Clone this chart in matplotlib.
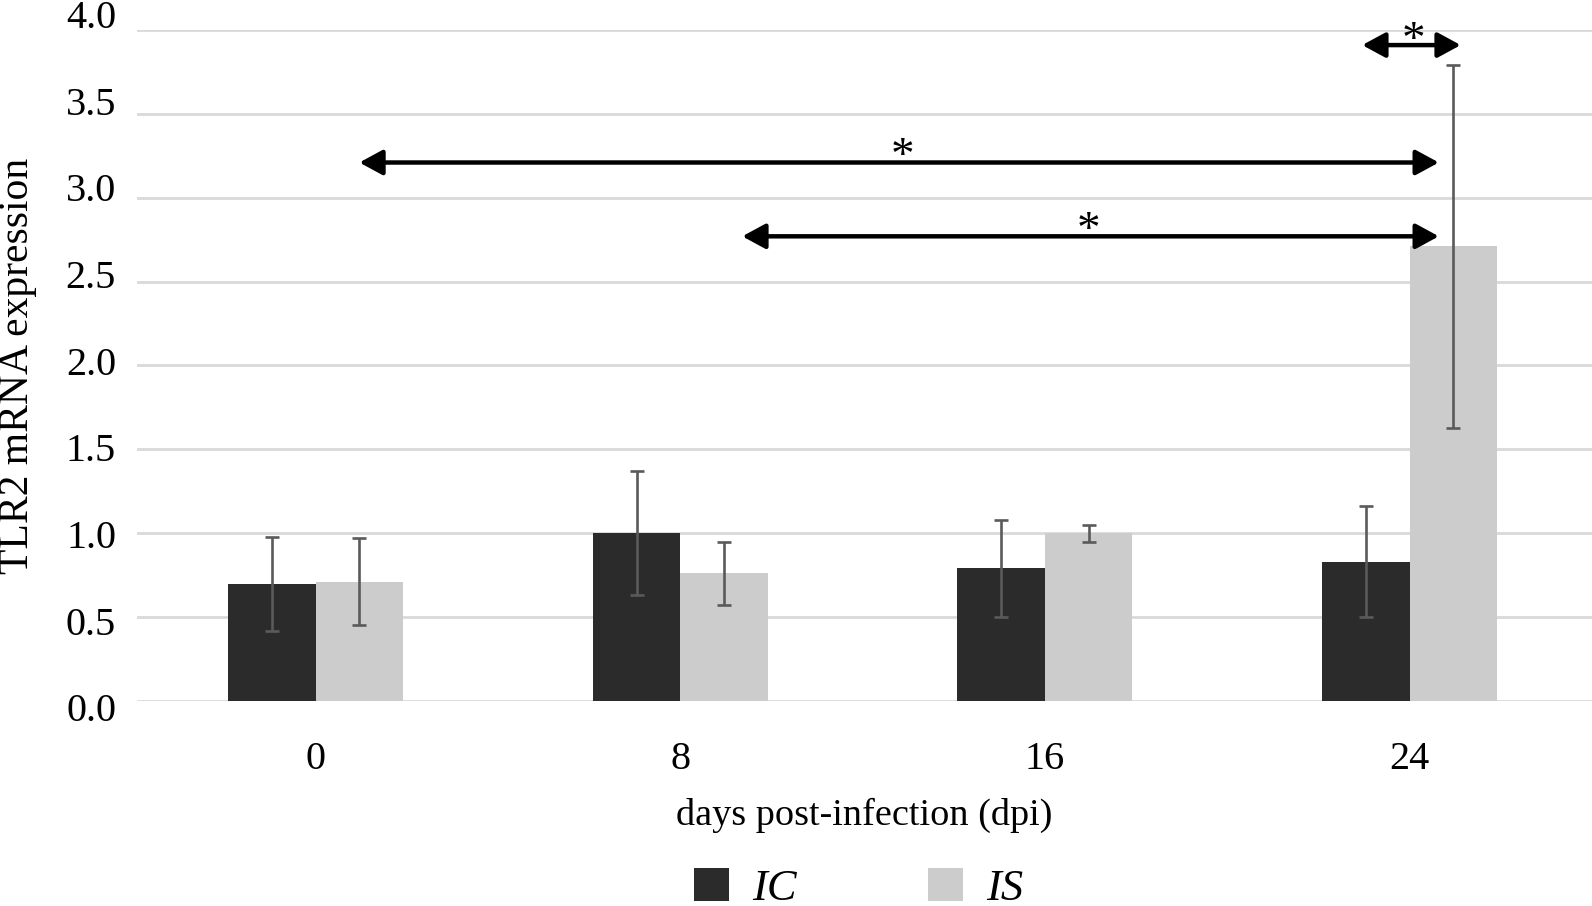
import matplotlib
matplotlib.use("Agg")
import matplotlib.pyplot as plt
import numpy as np

# data
days = ["0", "8", "16", "24"]
ic_mean = [0.70, 1.00, 0.79, 0.83]
ic_err = [0.28, 0.37, 0.29, 0.33]
is_mean = [0.71, 0.76, 1.00, 2.71]
is_err = [0.26, 0.19, 0.05, 1.08]
yticks = [0.0, 0.5, 1.0, 1.5, 2.0, 2.5, 3.0, 3.5, 4.0]

# significance brackets: (x start, x end, y of arrow, star x, star y)
sig_x0 = [2.87, 0.12, 1.17]
sig_x1 = [3.14, 3.08, 3.08]
sig_y = [3.91, 3.21, 2.77]
star_x = [3.01, 1.61, 2.12]
star_y = [3.93, 3.24, 2.80]

plt.rcParams['font.family'] = ['Liberation Serif', 'DejaVu Serif']

fig = plt.figure(figsize=(15.92, 9.06), dpi=100)
ax = fig.add_axes([0.086, 0.2263, 0.914, 0.7406])

x = np.arange(len(days))
w = 0.24
ekw = dict(ecolor="#5a5a5a", elinewidth=1.9, capsize=5, capthick=1.9)
ax.bar(x - w / 2, ic_mean, w, color="#2b2b2b", label="IC", zorder=2,
       yerr=ic_err, error_kw=ekw)
ax.bar(x + w / 2, is_mean, w, color="#cccccc", label="IS", zorder=2,
       yerr=is_err, error_kw=ekw)

for a, b, y in zip(sig_x0, sig_x1, sig_y):
    ax.annotate("", xy=(b, y), xytext=(a, y),
                arrowprops=dict(arrowstyle="<|-|>,head_length=0.7,head_width=0.38",
                                lw=3.2, color="black", mutation_scale=20,
                                shrinkA=0, shrinkB=0), zorder=4)
for sx, sy in zip(star_x, star_y):
    ax.text(sx, sy, "*", ha="center", va="center", fontsize=34, zorder=5)

ax.set_xlim(-0.49, 3.5)
ax.set_ylim(0, 4.0)
ax.set_yticks(yticks)
ax.set_xticks(x)
ax.set_xticklabels(days)
ax.yaxis.grid(True, color="#d9d9d9", lw=2, zorder=0)
ax.set_axisbelow(True)
for s in ax.spines.values():
    s.set_visible(False)
ax.tick_params(axis="both", length=0, labelsize=29)
ax.tick_params(axis="y", labelleft=False)
ax.tick_params(axis="x", pad=29)
ax.set_xlabel("days post-infection (dpi)", fontsize=27.5, labelpad=14)
ax.set_ylabel("TLR2 mRNA expression", fontsize=30)
ax.yaxis.set_label_coords(-0.0685, 0.5)

# the y tick labels in the original sit on a slightly stretched scale
lab = fig.add_axes([0.086, 0.2191, 0.914, 0.7655])
lab.patch.set_visible(False)
lab.set_ylim(0, 4.0)
lab.set_yticks(yticks)
lab.set_yticklabels([f"{v:.1f}" for v in yticks])
lab.set_xticks([])
for s in lab.spines.values():
    s.set_visible(False)
lab.tick_params(axis="y", length=0, labelsize=29, pad=15)

leg = fig.legend(loc="center", bbox_to_anchor=(0.5395, 0.0195), ncol=2,
                 frameon=False, handlelength=0.78, handleheight=0.78,
                 handletextpad=0.53, columnspacing=2.95,
                 prop=dict(family='Liberation Serif', style='italic', size=32))

fig.savefig("out.png", dpi=100)
